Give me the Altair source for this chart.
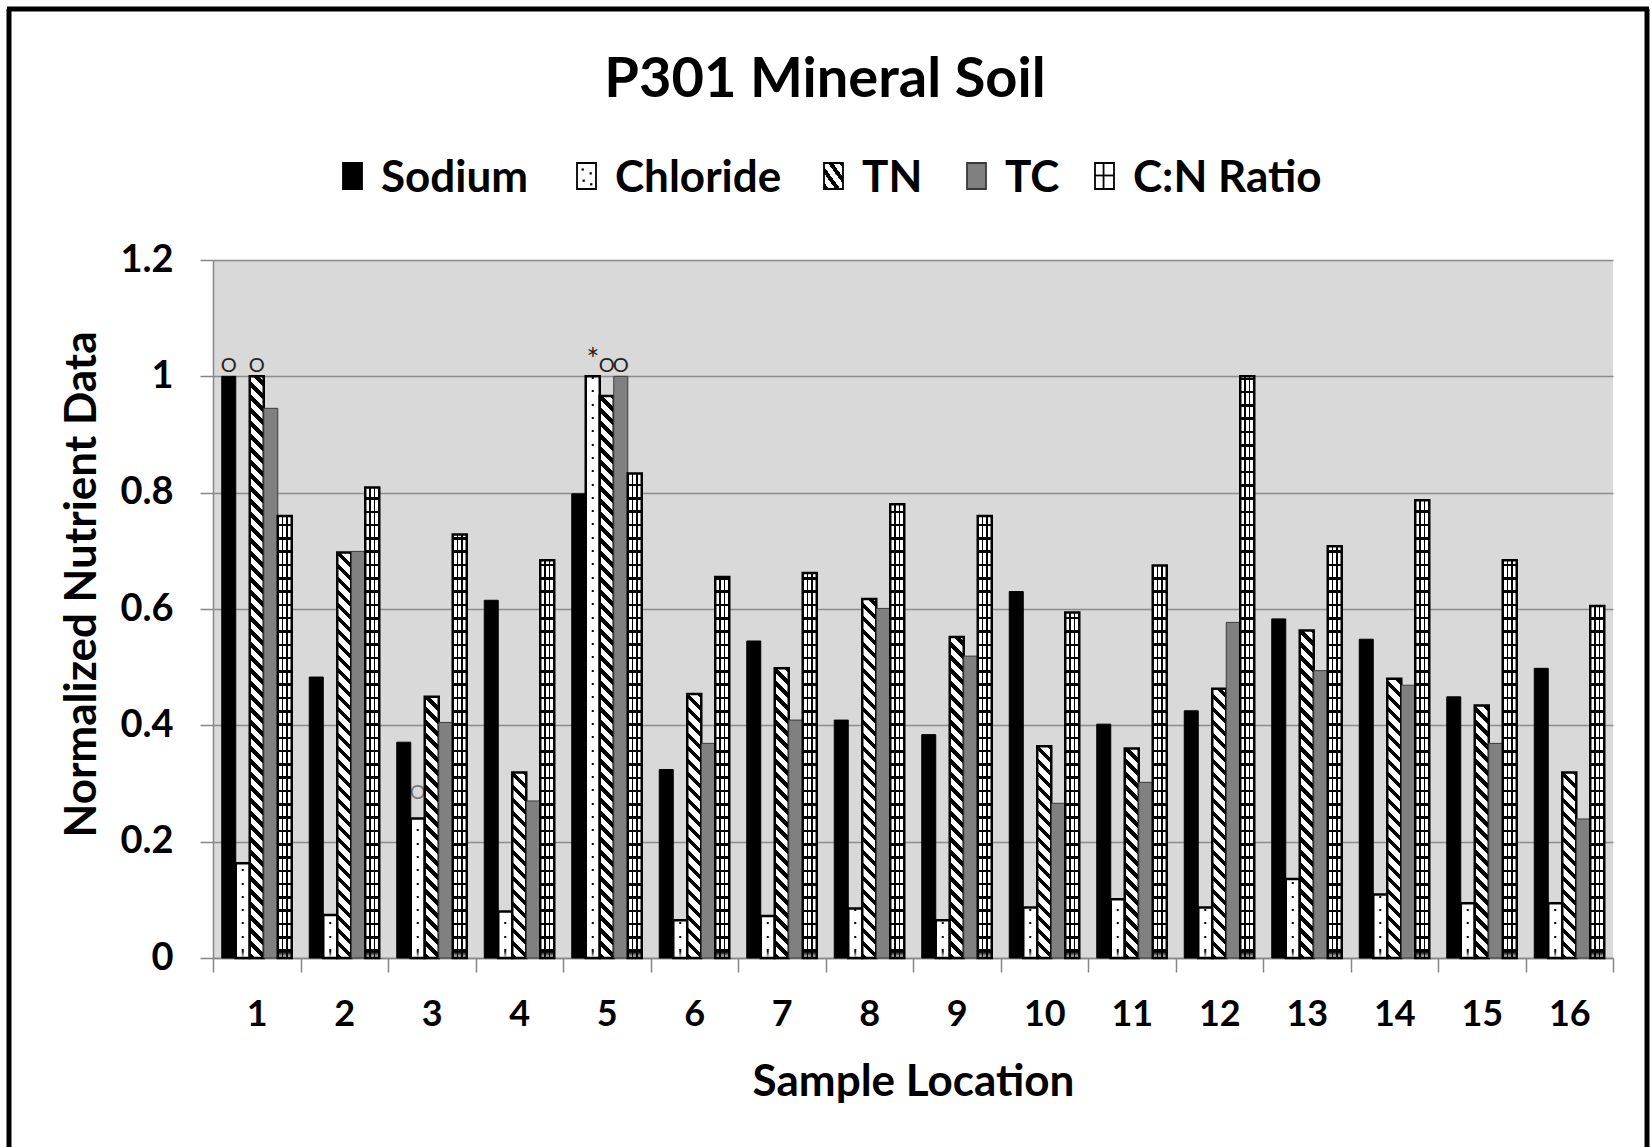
import altair as alt

# ---- data -------------------------------------------------------------
locations = list(range(1, 17))
series = ["Sodium", "Chloride", "TN", "TC", "C:N Ratio"]

sodium = [1.000, 0.483, 0.371, 0.615, 0.798, 0.324, 0.545, 0.409,
          0.384, 0.630, 0.402, 0.425, 0.583, 0.548, 0.449, 0.498]
chloride = [0.163, 0.074, 0.240, 0.080, 1.000, 0.065, 0.072, 0.085,
            0.065, 0.087, 0.101, 0.087, 0.136, 0.109, 0.094, 0.094]
tn = [1.000, 0.697, 0.449, 0.319, 0.966, 0.454, 0.498, 0.617,
      0.552, 0.364, 0.360, 0.463, 0.563, 0.480, 0.434, 0.319]
tc = [0.945, 0.699, 0.405, 0.270, 1.000, 0.369, 0.409, 0.601,
      0.519, 0.266, 0.302, 0.577, 0.494, 0.469, 0.369, 0.239]
cn_ratio = [0.760, 0.809, 0.728, 0.684, 0.833, 0.655, 0.662, 0.780,
            0.760, 0.594, 0.675, 1.000, 0.708, 0.787, 0.684, 0.605]

# flag symbols written above some bars
flag_location = [1, 1, 5, 5, 5, 3]
flag_series = ["Sodium", "TN", "Chloride", "TN", "TC", "Chloride"]
flag_text = ["O", "O", "*", "O", "O", "O"]
flag_level = [1.0, 1.0, 1.0, 1.0, 1.0, 0.266]

y_ticks = [0, 0.2, 0.4, 0.6, 0.8, 1.0, 1.2]

# ---- geometry used for hatching ---------------------------------------
PLOT_W, PLOT_H = 1400, 698
Y_MAX = 1.2
STEP = PLOT_W / len(locations)
PAD_OUT = 0.625
BAR_W = STEP / (len(series) + 2 * PAD_OUT)
CLEAR = "rgba(0,0,0,0)"
FONT = "Lato"


def bar_px(v):
    return v / Y_MAX * PLOT_H


def banded(span, period, ink, start, ink_color, paper_color):
    """Hard-edged stops: ink bands of width `ink` every `period` px."""
    stops = []
    pos = start - period
    while pos < span:
        a, b = max(pos, 0.0), min(pos + ink, span)
        if b > 0 and a < span:
            c = min(pos + period, span)
            stops += [{"offset": a / span, "color": ink_color},
                      {"offset": b / span, "color": ink_color},
                      {"offset": b / span, "color": paper_color},
                      {"offset": max(c, b) / span, "color": paper_color}]
        else:
            stops += [{"offset": max(0.0, min(pos + ink, span)) / span, "color": paper_color}]
        pos += period
    return sorted(stops, key=lambda s: s["offset"])


def diagonal_hatch(h, w=BAR_W, period=13.0, ink=5.5):
    # t runs from bottom-left (0) to top-right (1) along x - y
    span = w + h
    s = span / (w * w + h * h)
    return {"gradient": "linear", "x1": 0, "y1": 1, "x2": s * w, "y2": 1 - s * h,
            "stops": banded(span, period, ink, 0.0, "black", "white")}


def horizontal_rules(h, period=13.3, ink=2.6):
    # t runs from the baseline (0) to the bar top (1)
    return {"gradient": "linear", "x1": 0, "y1": 1, "x2": 0, "y2": 0,
            "stops": banded(max(h, 0.5), period, ink, 6.0, "black", "white")}


def dot_column(h):
    return {"gradient": "linear", "x1": 0, "y1": 1, "x2": 0, "y2": 0,
            "stops": banded(max(h, 0.5), 13.3, 2.0, 7.0, "black", CLEAR)}


vertical_rules = {"gradient": "linear", "x1": 0, "y1": 0, "x2": 1, "y2": 0,
                  "stops": [{"offset": 0, "color": CLEAR},
                            {"offset": 0.30, "color": CLEAR},
                            {"offset": 0.30, "color": "black"},
                            {"offset": 0.40, "color": "black"},
                            {"offset": 0.40, "color": CLEAR},
                            {"offset": 0.60, "color": CLEAR},
                            {"offset": 0.60, "color": "black"},
                            {"offset": 0.70, "color": "black"},
                            {"offset": 0.70, "color": CLEAR},
                            {"offset": 1, "color": CLEAR}]}

outline = {"Sodium": ("black", 1.0), "Chloride": ("black", 2.5), "TN": ("black", 2.5),
           "TC": ("#3a3a3a", 1.0), "C:N Ratio": ("black", 2.5)}

# ---- table for the bars ------------------------------------------------
columns = dict(zip(series, [sodium, chloride, tn, tc, cn_ratio]))
rows = []
for i, loc in enumerate(locations):
    for name in series:
        v = columns[name][i]
        h = bar_px(v)
        if name == "Sodium":
            fill = "black"
        elif name == "TC":
            fill = "#808080"
        elif name == "TN":
            fill = diagonal_hatch(h)
        elif name == "C:N Ratio":
            fill = horizontal_rules(h)
        else:
            fill = "white"
        rows.append({"location": loc, "series": name, "value": v, "fill": fill,
                     "stroke": outline[name][0], "sw": outline[name][1],
                     "dots": dot_column(h) if name == "Chloride" else None})

flags = [{"location": l, "series": s, "text": t, "level": lv,
          "fs": 30 if t == "*" else 20, "dy": 2 if t == "*" else -6}
         for l, s, t, lv in zip(flag_location, flag_series, flag_text, flag_level)]

# ---- shared encodings --------------------------------------------------
x_enc = alt.X("location:O", title="Sample Location",
              scale=alt.Scale(paddingInner=0, paddingOuter=0),
              axis=alt.Axis(labelAngle=0, tickBand="extent", tickSize=14, labelPadding=25,
                            grid=False, titleX=700, titleY=137, titleAlign="center",
                            titleBaseline="alphabetic"))
xoff_enc = alt.XOffset("series:N", sort=series,
                       scale=alt.Scale(domain=series, paddingInner=0, paddingOuter=PAD_OUT))
y_scale = alt.Scale(domain=[0, Y_MAX], nice=False)
y_axis = alt.Axis(values=y_ticks, format="~g", tickSize=13, labelPadding=27, grid=True,
                  labelFontSize=38,
                  titleX=-131, titleY=324, titleAngle=270, titleAlign="center",
                  titleBaseline="middle")
Y_TITLE = "Normalized Nutrient Data"

bars_src = alt.Chart(alt.Data(values=rows))
flag_src = alt.Chart(alt.Data(values=flags))
one = alt.Chart(alt.Data(values=[{"k": 0}]))


def flag_layer(condition, color):
    return flag_src.transform_filter(condition).transform_calculate(
        shifted="datum.level"
    ).mark_text(font=FONT, color=color, baseline="bottom").encode(
        x=x_enc, xOffset=xoff_enc,
        y=alt.Y("level:Q", title=Y_TITLE, scale=y_scale, axis=y_axis),
        yOffset=alt.YOffset("dy:Q", scale=None),
        text="text:N", size=alt.Size("fs:Q", scale=None))


hidden_flag = flag_layer("datum.level < 0.9", "#7a7a7a")

bars = bars_src.mark_bar().encode(
    x=x_enc, xOffset=xoff_enc,
    y=alt.Y("value:Q", stack=None, title=Y_TITLE, scale=y_scale, axis=y_axis),
    fill=alt.Fill("fill:N", scale=None),
    stroke=alt.Stroke("stroke:N", scale=None),
    strokeWidth=alt.StrokeWidth("sw:Q", scale=None),
)

dots = bars_src.transform_filter("datum.series == 'Chloride'").mark_bar(width=2).encode(
    x=x_enc, xOffset=xoff_enc,
    y=alt.Y("value:Q", stack=None, title=Y_TITLE, scale=y_scale, axis=y_axis),
    fill=alt.Fill("dots:N", scale=None),
)

grid_cols = bars_src.transform_filter("datum.series == 'C:N Ratio'").mark_bar(
    fill=vertical_rules
).encode(
    x=x_enc, xOffset=xoff_enc,
    y=alt.Y("value:Q", stack=None, title=Y_TITLE, scale=y_scale, axis=y_axis),
)

top_flags = flag_layer("datum.level >= 0.9", "#222222")

# ---- title -------------------------------------------------------------
title = one.mark_text(text="P301 Mineral Soil", font=FONT, fontWeight="bold", fontSize=56,
                      align="center", baseline="alphabetic", color="black").encode(
    x=alt.value(612), y=alt.value(-163))

# ---- legend ------------------------------------------------------------
KEY_W, KEY_H = 19, 26
KEY_TOP = -97
legend_x = {"Sodium": 130, "Chloride": 364, "TN": 611, "TC": 754, "C:N Ratio": 882}
key_fill = {
    "Sodium": "black",
    "Chloride": "white",
    "TN": {"gradient": "linear", "x1": 0, "y1": 1, "x2": 1, "y2": 0,
           "stops": banded(1.0, 0.3, 0.13, 0.0, "black", "white")},
    "TC": "#808080",
    "C:N Ratio": "white",
}
legend_layers = []
for name in series:
    x0 = legend_x[name]
    legend_layers.append(one.mark_rect(
        fill=key_fill[name], stroke=outline[name][0], strokeWidth=1.8
    ).encode(x=alt.value(x0), x2=alt.value(x0 + KEY_W),
             y=alt.value(KEY_TOP), y2=alt.value(KEY_TOP + KEY_H)))
    legend_layers.append(one.mark_text(
        text=name, font=FONT, fontWeight="bold", fontSize=44, align="left",
        baseline="alphabetic", color="black"
    ).encode(x=alt.value(x0 + KEY_W + 19), y=alt.value(-68)))

# speckles in the Chloride key
cx = legend_x["Chloride"]
for fx, fy in [(0.3, 0.25), (0.72, 0.4), (0.35, 0.68), (0.75, 0.82)]:
    legend_layers.append(one.mark_square(size=5, color="black", opacity=1).encode(
        x=alt.value(cx + fx * KEY_W), y=alt.value(KEY_TOP + fy * KEY_H)))
# grid in the C:N key
nx = legend_x["C:N Ratio"]
legend_layers.append(one.mark_rule(color="black", strokeWidth=1.8).encode(
    x=alt.value(nx + KEY_W * 0.45), y=alt.value(KEY_TOP), y2=alt.value(KEY_TOP + KEY_H)))
legend_layers.append(one.mark_rule(color="black", strokeWidth=1.8).encode(
    x=alt.value(nx), x2=alt.value(nx + KEY_W), y=alt.value(KEY_TOP + KEY_H * 0.48)))

# ---- outer frame -------------------------------------------------------
frame = [
    one.mark_rule(color="black", strokeWidth=5).encode(
        x=alt.value(-204), y=alt.value(-251), y2=alt.value(900)),
    one.mark_rule(color="black", strokeWidth=5).encode(
        x=alt.value(1434), y=alt.value(-251), y2=alt.value(900)),
    one.mark_rule(color="black", strokeWidth=5).encode(
        x=alt.value(-206), x2=alt.value(1436), y=alt.value(-251)),
]

chart = alt.layer(
    hidden_flag, bars, dots, grid_cols, top_flags, title, *legend_layers, *frame
).properties(
    width=PLOT_W, height=PLOT_H,
    padding={"left": 213, "top": 260, "right": 38, "bottom": 189},
    autosize=alt.AutoSizeParams(type="none"),
    background="white",
).configure_axis(
    labelFont=FONT, labelFontWeight="bold", labelFontSize=36, labelColor="black",
    titleFont=FONT, titleFontWeight="bold", titleFontSize=44, titleColor="black",
    domainColor="#868686", tickColor="#868686", gridColor="#8c8c8c",
    domainWidth=1.5, tickWidth=1.5, gridWidth=1.5,
).configure_view(fill="#d9d9d9", strokeWidth=0)

chart.save("out.html", embed_options={"renderer": "svg", "actions": False})
